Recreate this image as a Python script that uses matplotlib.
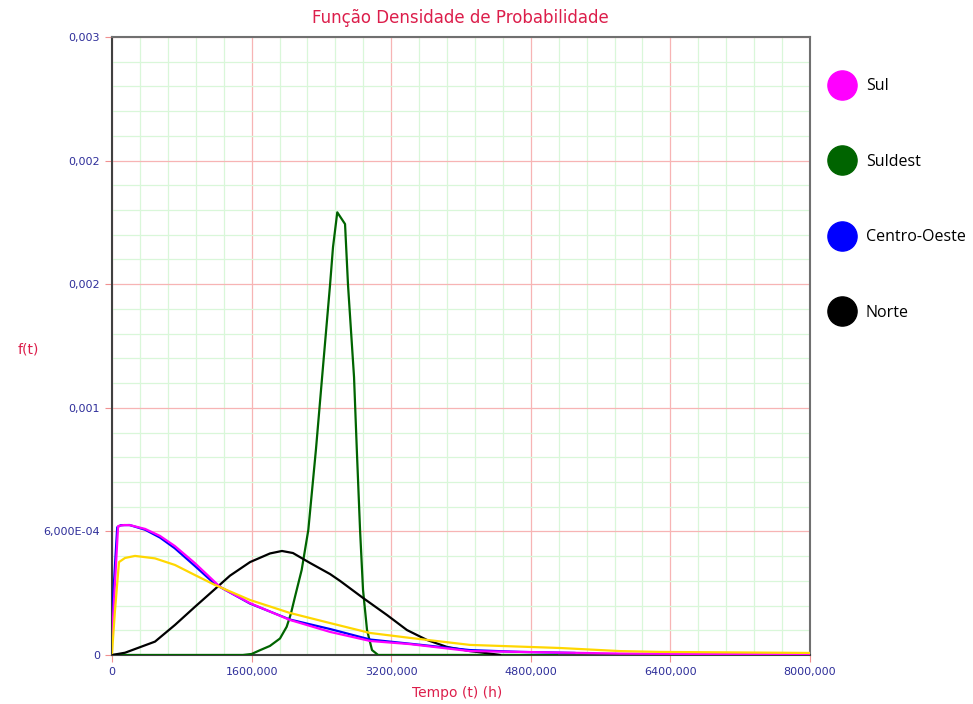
import matplotlib.pyplot as plt
from matplotlib.lines import Line2D
from matplotlib.ticker import MultipleLocator

# Sul (magenta)
sul_t = [0, 70, 140, 210, 380, 550, 720, 950, 1180, 1240, 1580, 2040, 2500, 2960, 3410, 4100,
         4680, 5820, 6740, 8000]
sul_f = [8.7e-5, 6.26e-4, 6.31e-4, 6.30e-4, 6.12e-4, 5.78e-4, 5.29e-4, 4.46e-4, 3.54e-4, 3.30e-4,
         2.52e-4, 1.70e-4, 1.12e-4, 6.8e-5, 5.3e-5, 1.9e-5, 1.5e-5, 7e-6, 5e-6, 3e-6]

# Suldest (dark green)
suldest_t = [0, 1500, 1600, 1700, 1810, 1925, 2002, 2050, 2097, 2174, 2250, 2338, 2415,
             2499, 2533, 2582, 2671, 2705, 2774, 2806, 2843, 2877, 2923, 2980, 3050, 5100]
suldest_f = [0, 0, 5e-6, 2.4e-5, 4.4e-5, 8.0e-5, 1.37e-4, 2.00e-4, 2.82e-4, 4.13e-4, 6.07e-4,
             1.0e-3, 1.383e-3, 1.796e-3, 1.98e-3, 2.149e-3, 2.092e-3, 1.796e-3,
             1.349e-3, 9.95e-4, 6.07e-4, 3.16e-4, 1.21e-4, 2.4e-5, 0, 0]

# Centro-Oeste (blue)
centro_t = [0, 60, 100, 200, 380, 550, 720, 950, 1180, 1580, 2040, 2500, 2960, 3410, 4100,
            4680, 5300]
centro_f = [1.9e-4, 6.2e-4, 6.30e-4, 6.31e-4, 6.08e-4, 5.70e-4, 5.18e-4, 4.32e-4, 3.44e-4,
            2.50e-4, 1.72e-4, 1.26e-4, 7.5e-5, 5.5e-5, 2.4e-5, 1.5e-5, 1.0e-5]

# Norte (black)
norte_t = [0, 149, 493, 722, 951, 1180, 1352, 1582, 1811, 1948, 2074, 2269, 2499, 2613,
           2877, 3152, 3381, 3610, 3840, 4103, 4332, 4447]
norte_f = [0, 1.1e-5, 6.5e-5, 1.46e-4, 2.34e-4, 3.20e-4, 3.85e-4, 4.51e-4, 4.93e-4, 5.05e-4,
           4.95e-4, 4.47e-4, 3.93e-4, 3.60e-4, 2.77e-4, 1.94e-4, 1.21e-4, 7.3e-5, 3.9e-5,
           1.9e-5, 7e-6, 0]

# unlabelled yellow curve
extra_t = [0, 35, 80, 149, 264, 493, 722, 951, 1180, 1582, 2040, 2499, 2957, 3415, 4103,
           4447, 5135, 5822, 6280, 8000]
extra_f = [1e-5, 2.2e-4, 4.51e-4, 4.71e-4, 4.81e-4, 4.69e-4, 4.37e-4, 3.88e-4, 3.40e-4,
           2.67e-4, 2.04e-4, 1.55e-4, 1.07e-4, 8.3e-5, 4.9e-5, 4.4e-5, 3.4e-5, 1.9e-5,
           1.5e-5, 1e-5]

x_ticks = [0, 1600, 3200, 4800, 6400, 8000]
x_labels = ['0', '1600,000', '3200,000', '4800,000', '6400,000', '8000,000']
y_ticks = [0, 0.0006, 0.0012, 0.0018, 0.0024, 0.003]
y_labels = ['0', '6,000E-04', '0,001', '0,002', '0,002', '0,003']

tick_color = '#2E2E9A'
label_color = '#DC1E4B'

fig = plt.figure(figsize=(9.73, 7.04), dpi=100)
ax = fig.add_axes([112 / 973, 1 - 655 / 704, 698 / 973, 618 / 704])

ax.plot(suldest_t, suldest_f, color='#006400', lw=1.6, zorder=3)
ax.plot(norte_t, norte_f, color='black', lw=1.6, zorder=4)
ax.plot(centro_t, centro_f, color='#0000FF', lw=1.6, zorder=5)
ax.plot(sul_t, sul_f, color='#FF00FF', lw=1.6, zorder=6)
ax.plot(extra_t, extra_f, color='#FFD700', lw=1.6, zorder=7)

ax.set_xlim(0, 8000)
ax.set_ylim(0, 0.003)
ax.set_xticks(x_ticks)
ax.set_xticklabels(x_labels)
ax.set_yticks(y_ticks)
ax.set_yticklabels(y_labels)
ax.xaxis.set_minor_locator(MultipleLocator(320))
ax.yaxis.set_minor_locator(MultipleLocator(0.00012))

ax.grid(which='major', color='#F7B4B4', lw=0.9, zorder=0)
ax.grid(which='minor', color='#D9F7D9', lw=0.9, zorder=0)
ax.set_axisbelow(True)
ax.tick_params(which='major', colors='#F09090', length=5, labelsize=8, labelcolor=tick_color)
ax.tick_params(which='minor', length=0)

for side in ['left', 'bottom']:
    ax.spines[side].set_color('#404040')
    ax.spines[side].set_linewidth(1.5)
for side in ['top', 'right']:
    ax.spines[side].set_color('#707070')
    ax.spines[side].set_linewidth(1.5)

fig.text(0.473, 0.975, 'Função Densidade de Probabilidade', color=label_color,
         fontsize=12, ha='center', va='center')
fig.text(18 / 973, 1 - 350 / 704, 'f(t)', color=label_color, fontsize=10, ha='left', va='center')
fig.text(457 / 973, 1 - 693 / 704, 'Tempo (t) (h)', color=label_color, fontsize=10,
         ha='center', va='center')

names = ['Sul', 'Suldest', 'Centro-Oeste', 'Norte']
colors = ['#FF00FF', '#006400', '#0000FF', 'black']
handles = [Line2D([], [], ls='none', marker='o', markersize=21, color=c) for c in colors]
fig.legend(handles, names, loc='upper left', bbox_to_anchor=(826 / 973, 1 - 72 / 704),
           frameon=False, labelspacing=3.72, handlelength=1.2, handletextpad=0.9,
           borderaxespad=0, prop={'family': 'Open Sans', 'size': 11.5})

fig.savefig('out.png', dpi=100)
